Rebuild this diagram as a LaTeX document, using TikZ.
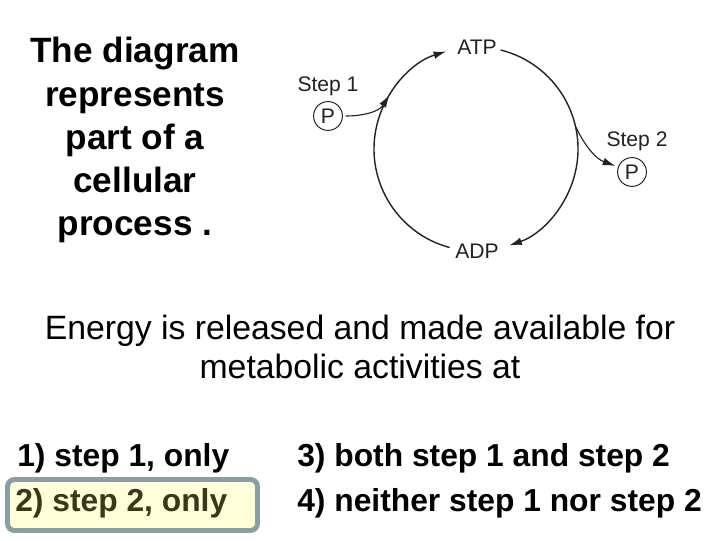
\documentclass[tikz,border=0pt]{standalone}
\usepackage{fontspec}
\setmainfont{Liberation Sans}
\usetikzlibrary{arrows.meta}
\definecolor{ink}{HTML}{222222}
\definecolor{boxline}{HTML}{8A9FA1}
\definecolor{boxfill}{HTML}{FFFFDA}
\definecolor{boxtext}{HTML}{3A381A}
\tikzset{
  cycleline/.style={draw=ink, line width=1pt},
  cyclearrow/.style={cycleline, -{Latex[length=9pt,width=5.5pt]}},
  labeltxt/.style={text=ink, inner sep=0pt, font=\fontsize{15}{18}\selectfont},
  phos/.style={circle, draw=ink, line width=0.7pt, minimum size=0.72cm, inner sep=0pt,
    text=ink, font=\fontsize{15}{18}\selectfont},
  answer/.style={anchor=base west, inner sep=0pt, font=\bfseries\fontsize{22.6}{26}\selectfont},
}
\begin{document}
\begin{tikzpicture}[x=0.025cm,y=0.025cm]%
\useasboundingbox (0,0) rectangle (720,540);%
%
% title on the left
\node[anchor=north, align=center, inner sep=0pt,
  font=\bfseries\fontsize{25}{30.8}\selectfont] (title) at (135,503)
  {The diagram\\represents\\part of a\\cellular\\process .};%
%
% the ATP / ADP cycle
\def\rad{102};%
\coordinate (cyc) at (476,391);%
\node[labeltxt] (atp) at (477,493) {ATP};%
\node[labeltxt] (adp) at (477,289) {ADP};%
\draw[cyclearrow] ([shift={(255:\rad)}]cyc) arc[start angle=255, end angle=107, radius=\rad];%
\draw[cyclearrow] ([shift={(76:\rad)}]cyc) arc[start angle=76, end angle=-71, radius=\rad];%
%
\node[labeltxt] (step1) at (328,454) {Step 1};%
\node[phos] (p1) at (328,424) {P};%
\coordinate (hit1) at ([shift={(148:\rad)}]cyc);%
\draw[cyclearrow, line width=0.8pt, shorten <=2pt] (p1.east) to[out=0, in=238] (hit1);%
%
\node[labeltxt] (step2) at (637,399) {Step 2};%
\node[phos] (p2) at (632,368) {P};%
\coordinate (leave2) at ([shift={(13:\rad)}]cyc);%
\draw[cyclearrow, line width=0.8pt, shorten >=2pt] (leave2) to[out=-65, in=160] (p2.160);%
%
% question
\node[anchor=north, align=center, inner sep=0pt,
  font=\fontsize{24}{27.5}\selectfont] (quest) at (360,225)
  {Energy is released and made available for\\metabolic activities at};%
%
% choices
\draw[line width=3.5pt, draw=boxline, fill=boxfill, rounded corners=5pt] (7.5,9.5) rectangle (257.5,60.5);%
\node[answer] (c1) at (17,74) {1) step 1, only};%
\node[answer, text=boxtext] (c2) at (15,29) {2) step 2, only};%
\node[answer] (c3) at (297,74) {3) both step 1 and step 2};%
\node[answer] (c4) at (297,29) {4) neither step 1 nor step 2};%
\end{tikzpicture}
\end{document}
